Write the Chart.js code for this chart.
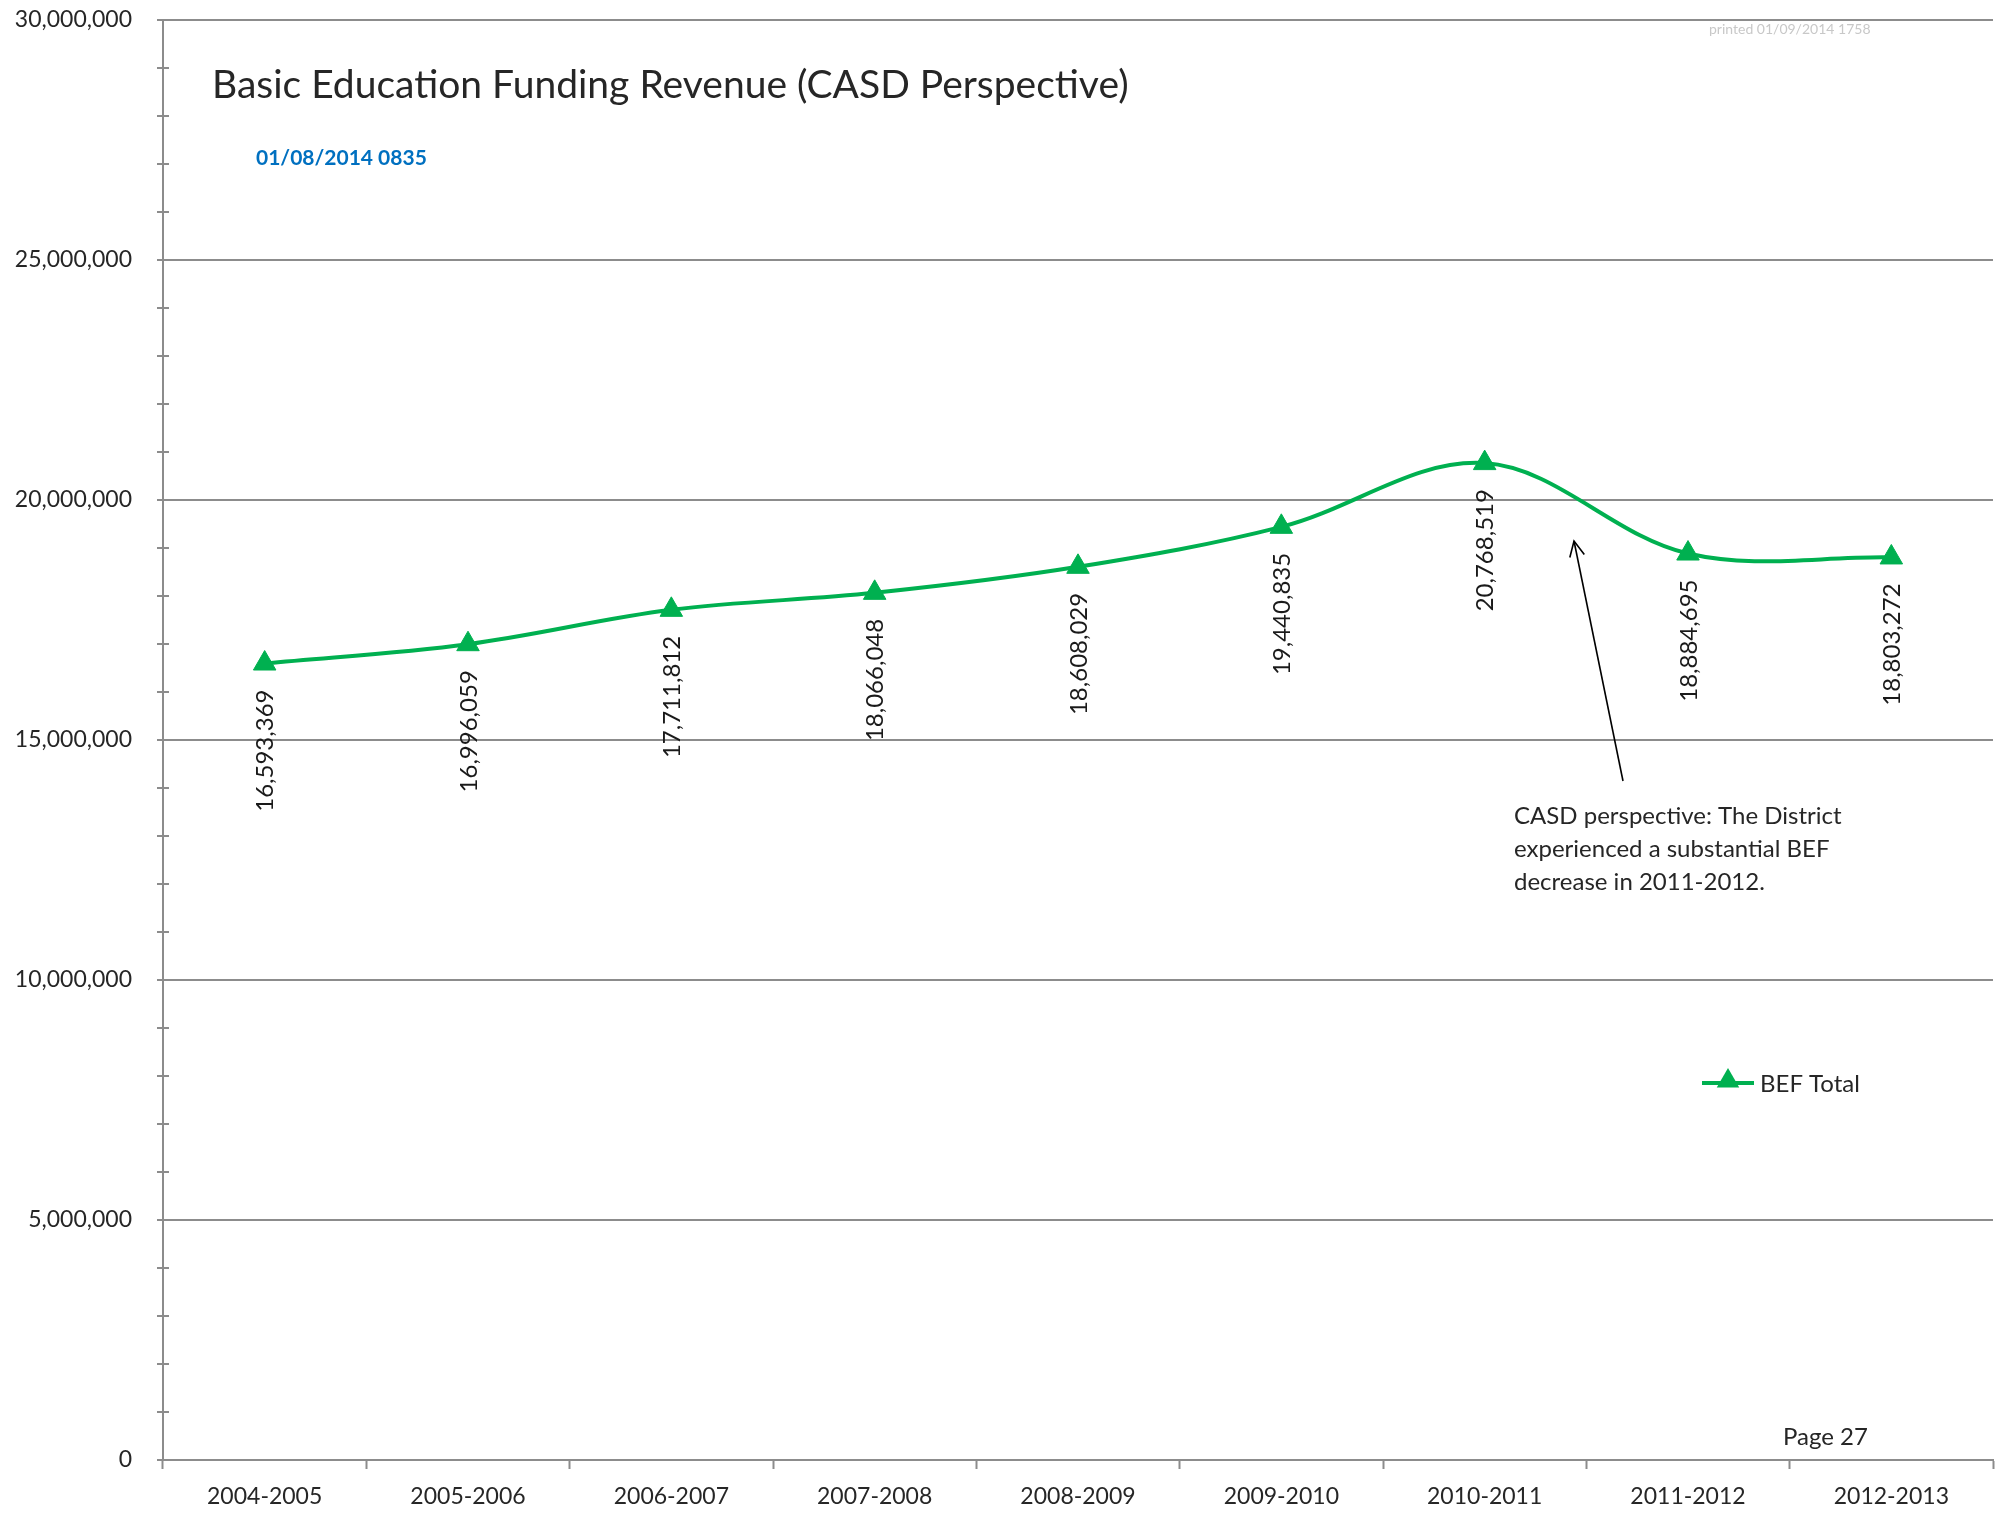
<!DOCTYPE html>
<html>
<head>
<meta charset="utf-8">
<script src="https://cdn.jsdelivr.net/npm/chart.js@4.4.1/dist/chart.umd.min.js"></script>
<style>
  html, body { margin: 0; padding: 0; background: #fff; }
  canvas { display: block; }
</style>
</head>
<body>
<canvas id="befChart" width="2007" height="1519"></canvas>
<script>
// school years on the x axis
var categories = ['2004-2005', '2005-2006', '2006-2007', '2007-2008', '2008-2009',
                  '2009-2010', '2010-2011', '2011-2012', '2012-2013'];
// BEF Total revenue per year
var befTotal = [16593369, 16996059, 17711812, 18066048, 18608029,
                19440835, 20768519, 18884695, 18803272];
// y axis: labelled every 5M, small tick every 1M
var yMin = 0;
var yMax = 30000000;
var yMajorStep = 5000000;
var yMinorStep = 1000000;

var titleText = 'Basic Education Funding Revenue (CASD Perspective)';
var dateText = '01/08/2014 0835';
var printedText = 'printed 01/09/2014 1758';
var noteLines = ['CASD perspective: The District', 'experienced a substantial BEF', 'decrease in 2011-2012.'];
var pageText = 'Page 27';

var GREEN = '#00B050';
var GRID = '#8c8c8c';
var TEXT = '#262626';
var FONT = 'Lato, "Open Sans", sans-serif';

function fmt(v) {
    return v.toLocaleString('en-US');
}

function triangle(ctx, x, y, r) {
    var h = r * Math.sqrt(3) / 2;
    ctx.beginPath();
    ctx.moveTo(x, y - r);
    ctx.lineTo(x + h, y + r / 2);
    ctx.lineTo(x - h, y + r / 2);
    ctx.closePath();
    ctx.fill();
}

// extras: inner half of y ticks, value labels, texts, arrow, legend
var extras = {
    id: 'extras',
    afterDraw: function (chart) {
        var ctx = chart.ctx;
        var area = chart.chartArea;
        var yScale = chart.scales.y;

        ctx.save();
        // tick marks also poke into the plot a little
        ctx.strokeStyle = GRID;
        ctx.lineWidth = 2;
        yScale.ticks.forEach(function (t) {
            var py = yScale.getPixelForValue(t.value);
            ctx.beginPath();
            ctx.moveTo(area.left, py);
            ctx.lineTo(area.left + 6, py);
            ctx.stroke();
        });

        // rotated value labels under each point
        var meta = chart.getDatasetMeta(0);
        ctx.fillStyle = '#1a1a1a';
        ctx.font = '24px ' + FONT;
        ctx.textAlign = 'right';
        ctx.textBaseline = 'middle';
        meta.data.forEach(function (pt, i) {
            ctx.save();
            ctx.translate(pt.x + 1, pt.y + 26);
            ctx.rotate(-Math.PI / 2);
            ctx.fillText(fmt(befTotal[i]), 0, 0);
            ctx.restore();
        });

        ctx.textBaseline = 'alphabetic';
        ctx.textAlign = 'left';

        // title
        ctx.fillStyle = TEXT;
        ctx.font = '39px ' + FONT;
        ctx.fillText(titleText, 212, 98);

        // date stamp
        ctx.fillStyle = '#0070C0';
        ctx.font = 'bold 21px ' + FONT;
        ctx.fillText(dateText, 256, 165);

        // printed stamp
        ctx.fillStyle = '#c8c8c8';
        ctx.font = '14px ' + FONT;
        ctx.fillText(printedText, 1709, 34);

        // note
        ctx.fillStyle = TEXT;
        ctx.font = '24px ' + FONT;
        noteLines.forEach(function (line, i) {
            ctx.fillText(line, 1514, 824 + i * 33);
        });

        // page number
        ctx.fillText(pageText, 1783, 1445);

        // arrow pointing at the 2011-2012 drop
        var x0 = 1623, y0 = 781, x1 = 1574, y1 = 541;
        ctx.strokeStyle = '#000';
        ctx.lineWidth = 1.6;
        ctx.beginPath();
        ctx.moveTo(x0, y0);
        ctx.lineTo(x1, y1);
        ctx.stroke();
        var ang = Math.atan2(y1 - y0, x1 - x0);
        var len = 17, spread = 0.45;
        ctx.beginPath();
        ctx.moveTo(x1 - len * Math.cos(ang - spread), y1 - len * Math.sin(ang - spread));
        ctx.lineTo(x1, y1);
        ctx.lineTo(x1 - len * Math.cos(ang + spread), y1 - len * Math.sin(ang + spread));
        ctx.stroke();

        // legend
        var ly = 1083;
        ctx.strokeStyle = GREEN;
        ctx.lineWidth = 4;
        ctx.beginPath();
        ctx.moveTo(1702, ly);
        ctx.lineTo(1754, ly);
        ctx.stroke();
        ctx.fillStyle = GREEN;
        triangle(ctx, 1728, ly - 2, 13);
        ctx.fillStyle = TEXT;
        ctx.font = '24px ' + FONT;
        ctx.textBaseline = 'middle';
        ctx.fillText(chart.data.datasets[0].label, 1760, ly + 1);

        ctx.restore();
    }
};

var ctx = document.getElementById('befChart').getContext('2d');

var data = {
    labels: categories,
    datasets: [{
        label: 'BEF Total',
        data: befTotal,
        borderColor: GREEN,
        backgroundColor: GREEN,
        borderWidth: 4,
        tension: 0.35,
        pointStyle: 'triangle',
        pointRadius: 13,
        pointHoverRadius: 13,
        pointBorderWidth: 1,
        pointBackgroundColor: GREEN,
        pointBorderColor: GREEN
    }]
};

var options = {
    responsive: false,
    animation: false,
    events: [],
    layout: { padding: { top: 20, right: 10, left: 0, bottom: 0 } },
    plugins: {
        legend: { display: false },
        title: { display: false },
        tooltip: { enabled: false }
    },
    scales: {
        x: {
            offset: true,
            grid: {
                offset: true,
                drawOnChartArea: false,
                drawTicks: true,
                tickLength: 9,
                tickColor: GRID,
                tickWidth: 2
            },
            border: { color: GRID, width: 2 },
            ticks: {
                color: TEXT,
                font: { family: FONT, size: 23 },
                padding: 14,
                maxRotation: 0
            },
            afterFit: function (scale) {
                scale.height = 59;
                scale.paddingLeft = 0;
                scale.paddingRight = 0;
            }
        },
        y: {
            min: yMin,
            max: yMax,
            grid: {
                color: function (c) {
                    return c.tick && c.tick.value % yMajorStep === 0 ? GRID : 'rgba(0,0,0,0)';
                },
                lineWidth: 2,
                tickColor: GRID,
                tickWidth: 2,
                tickLength: 6
            },
            border: { color: GRID, width: 2 },
            ticks: {
                stepSize: yMinorStep,
                autoSkip: false,
                color: TEXT,
                font: { family: FONT, size: 23 },
                padding: 25,
                callback: function (v) {
                    return v % yMajorStep === 0 ? fmt(v) : '';
                }
            },
            afterFit: function (scale) {
                scale.width = 163;
                scale.paddingTop = 0;
                scale.paddingBottom = 0;
            }
        }
    }
};

var befChart = new Chart(ctx, {
    type: 'line',
    data: data,
    options: options,
    plugins: [extras]
});
</script>
</body>
</html>
